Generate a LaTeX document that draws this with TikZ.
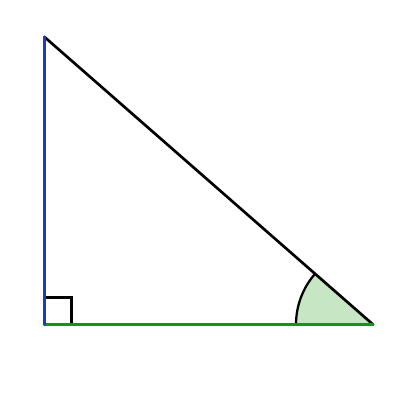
\documentclass[tikz,border=0pt]{standalone}
\usetikzlibrary{calc}

\definecolor{legblue}{RGB}{30,60,180}
\definecolor{leggreen}{RGB}{20,150,20}
\definecolor{anglefill}{RGB}{198,230,196}

\begin{document}
\begin{tikzpicture}[x=0.025cm, y=0.025cm, line width=1.9pt,
    side/.style={line cap=round},
    leg/.style={side, line width=2.3pt},
    marker/.style={line width=1.6pt}]
%      \draw [help lines, opacity=0.5] (0,0) grid [step=20] (400,400);
      \useasboundingbox (0,0) rectangle (400,400);
      \coordinate (corner) at (44.5,75.5);
      \coordinate (top) at (44.5,363);
      \coordinate (tip) at (373,75.5);

      % angle at the tip
      \fill [anglefill] (tip) -- ++(180:77) arc [start angle=180, end angle=138.9, radius=77] -- cycle;
      \draw [marker] ($(tip)+(180:77)$) arc [start angle=180, end angle=138.9, radius=77];

      % right angle
      \draw [marker] ($(corner)+(0,27)$) -- ++(27,0) -- ++(0,-27);

      \draw [side] (top) -- (tip);
      \draw [leg, leggreen] (corner) -- (tip);
      \draw [leg, legblue] (corner) -- (top);
    \end{tikzpicture}
\end{document}
